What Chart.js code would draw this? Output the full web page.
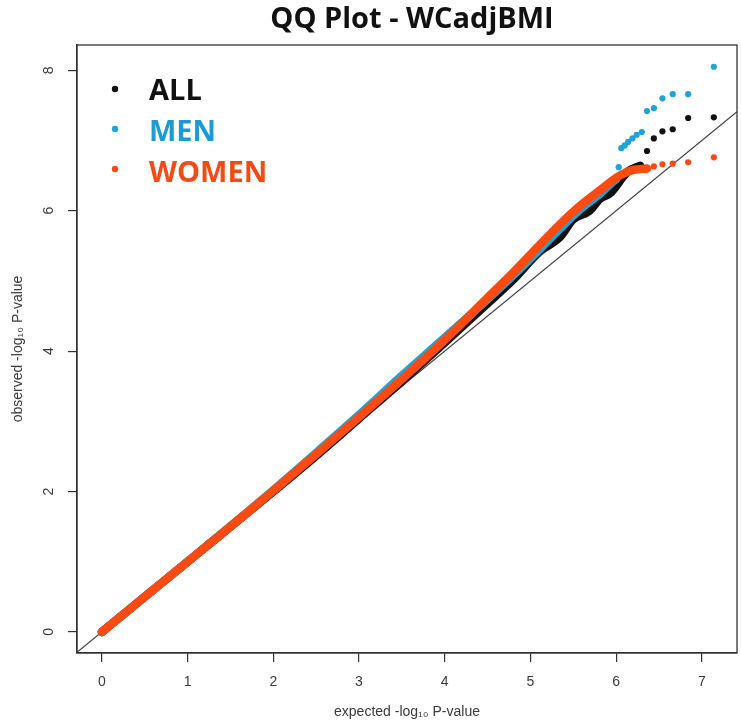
<!DOCTYPE html>
<html>
<head>
<meta charset="utf-8">
<script src="https://cdn.jsdelivr.net/npm/chart.js@4.4.1/dist/chart.umd.min.js"></script>
<style>
  html, body { margin: 0; padding: 0; background: #fff; }
  #wrap { width: 741px; height: 725px; }
</style>
</head>
<body>
<div id="wrap"><canvas id="qq"></canvas></div>
<script>
const seriesNames = ['ALL', 'MEN', 'WOMEN'];
const dotColors = ['#111111', '#1fa3d8', '#ff4b12'];
const textColors = ['#111111', '#1b9ad4', '#f44b16'];

// bulk of each QQ curve: [expected, observed] (a thick band of overlapping points)
const allCurve = [[0, 0], [1, 1], [2, 2.0], [2.5, 2.51], [3, 3.04], [3.5, 3.57], [4, 4.12], [4.5, 4.68],
  [4.8, 5.02], [5.11, 5.42], [5.34, 5.62], [5.5, 5.88], [5.69, 6.0], [5.81, 6.17], [5.93, 6.25],
  [6.13, 6.55], [6.28, 6.64]];
const menCurve = [[0, 0], [1, 1], [2, 2.02], [2.5, 2.55], [3, 3.09], [3.5, 3.65], [4, 4.19], [4.5, 4.74],
  [4.8, 5.08], [5.1, 5.44], [5.34, 5.74], [5.58, 6.02], [5.81, 6.24], [5.95, 6.4], [6.0, 6.45]];
const womenCurve = [[0, 0], [0.5, 0.5], [1, 1], [1.5, 1.5], [2, 2.01], [2.5, 2.53], [3, 3.06], [3.5, 3.6],
  [4, 4.16], [4.5, 4.76], [4.8, 5.12], [5.1, 5.5], [5.34, 5.8], [5.58, 6.07], [5.81, 6.29],
  [6.04, 6.5], [6.2, 6.58], [6.36, 6.6]];

// top hits, drawn as single dots
const allTail = [[6.36, 6.85], [6.44, 7.03], [6.54, 7.13], [6.66, 7.16], [6.84, 7.32], [7.14, 7.33]];
const menTail = [[6.03, 6.62], [6.06, 6.89], [6.10, 6.93], [6.14, 6.98], [6.19, 7.03], [6.24, 7.08],
  [6.30, 7.12], [6.36, 7.42], [6.44, 7.46], [6.54, 7.60], [6.66, 7.66], [6.84, 7.66], [7.14, 8.05]];
const womenTail = [[6.44, 6.63], [6.54, 6.66], [6.66, 6.67], [6.84, 6.69], [7.14, 6.76]];

const xTicks = [0, 1, 2, 3, 4, 5, 6, 7];
const yTicks = [0, 2, 4, 6, 8];
const xRange = [-0.29, 7.41];
const yRange = [-0.30, 8.36];

const toPts = arr => arr.map(p => ({ x: p[0], y: p[1] }));
const axisFont = { family: "'Liberation Sans Narrow', 'Liberation Sans', sans-serif", size: 14 };
const axisColor = '#3a3a3a';

function curve(data, color, order) {
  return {
    data: toPts(data), showLine: true, borderColor: color, backgroundColor: color,
    borderWidth: 8.5, pointRadius: 0, borderCapStyle: 'round', borderJoinStyle: 'round',
    cubicInterpolationMode: 'monotone', order: order
  };
}
function tail(data, color, order) {
  return {
    data: toPts(data), showLine: false, backgroundColor: color, borderColor: color,
    borderWidth: 0, pointRadius: 3.1, order: order
  };
}

const framePlugin = {
  id: 'frame',
  afterDraw(chart) {
    const { ctx, chartArea: a } = chart;
    ctx.save();
    ctx.strokeStyle = '#333';
    ctx.lineWidth = 1.3;
    ctx.strokeRect(a.left, a.top, a.right - a.left, a.bottom - a.top);

    ctx.font = "bold 29px 'Open Sans'";
    ctx.fillStyle = '#111';
    ctx.textAlign = 'center';
    ctx.textBaseline = 'alphabetic';
    ctx.fillText('QQ Plot - WCadjBMI', 412, 28);

    const dotY = [89, 129, 169];
    const textY = [100, 141, 182];
    seriesNames.forEach((name, i) => {
      ctx.fillStyle = dotColors[i];
      ctx.beginPath();
      ctx.arc(115, dotY[i], 3.2, 0, Math.PI * 2);
      ctx.fill();
      ctx.fillStyle = textColors[i];
      ctx.textAlign = 'left';
      ctx.fillText(name, 149, textY[i]);
    });
    ctx.restore();
  }
};

new Chart(document.getElementById('qq'), {
  type: 'scatter',
  data: {
    datasets: [
      { data: toPts([[xRange[0], xRange[0]], [xRange[1], xRange[1]]]), showLine: true,
        borderColor: '#444', borderWidth: 1.2, pointRadius: 0, order: 10 },
      curve(allCurve, dotColors[0], 9),
      curve(menCurve, dotColors[1], 8),
      curve(womenCurve, dotColors[2], 7),
      tail(allTail, dotColors[0], 3),
      tail(menTail, dotColors[1], 2),
      tail(womenTail, dotColors[2], 1)
    ]
  },
  options: {
    responsive: true,
    maintainAspectRatio: false,
    animation: false,
    layout: { padding: { top: 45, right: 4, left: 0, bottom: 0 } },
    plugins: { legend: { display: false }, tooltip: { enabled: false } },
    scales: {
      x: {
        type: 'linear', min: xRange[0], max: xRange[1],
        afterBuildTicks: s => { s.ticks = xTicks.map(v => ({ value: v })); },
        afterFit: s => { s.height = 72; },
        grid: { drawOnChartArea: false, drawTicks: true, tickLength: 9, color: '#333', lineWidth: 1.2 },
        border: { display: true, color: '#333', width: 1.3 },
        ticks: { color: axisColor, font: axisFont, padding: 12 },
        title: { display: true, text: 'expected -log₁₀ P-value', color: axisColor, font: axisFont,
          padding: { top: 0, bottom: 4.6 } }
      },
      y: {
        type: 'linear', min: yRange[0], max: yRange[1],
        afterBuildTicks: s => { s.ticks = yTicks.map(v => ({ value: v })); },
        afterFit: s => { s.width = 77; },
        grid: { drawOnChartArea: false, drawTicks: true, tickLength: 9, color: '#333', lineWidth: 1.2 },
        border: { display: true, color: '#333', width: 1.3 },
        ticks: { color: axisColor, font: axisFont, padding: 15, minRotation: 90, maxRotation: 90,
          crossAlign: 'center' },
        title: { display: true, text: 'observed -log₁₀ P-value', color: axisColor, font: axisFont,
          padding: { top: 9.6, bottom: 0 } }
      }
    }
  },
  plugins: [framePlugin]
});
</script>
</body>
</html>
